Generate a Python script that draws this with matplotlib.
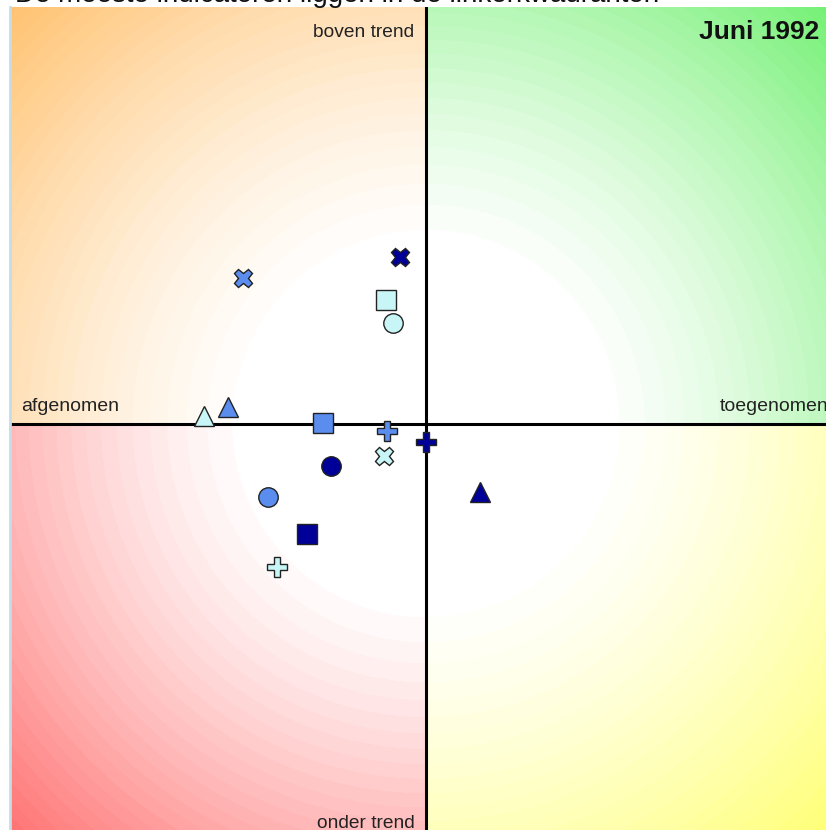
import numpy as np
import matplotlib.pyplot as plt

# indicator positions (x: afgenomen <-> toegenomen, y: onder <-> boven trend)
navy_x = [-6.3, 0.0, -28.6, -22.8, 13.0]
navy_y = [40.0, -4.3, -26.4, -10.1, -16.3]
blue_x = [-44.0, -9.4, -24.8, -38.0, -47.6]
blue_y = [35.0, -1.7, 0.2, -17.5, 4.1]
light_x = [-10.1, -35.8, -9.6, -7.9, -53.4]
light_y = [-7.7, -34.3, 29.7, 24.2, 1.9]
shapes = ['X', 'P', 's', 'o', '^']   # kruis, plus, vierkant, cirkel, driehoek

series = [
    (navy_x, navy_y, '#000099'),
    (blue_x, blue_y, '#5B8DEF'),
    (light_x, light_y, '#C8F6F6'),
]

# quadrant colours (corner tint)
c_tl = np.array([255, 194, 112]) / 255   # oranje
c_tr = np.array([112, 240, 112]) / 255   # groen
c_bl = np.array([255, 112, 112]) / 255   # rood
c_br = np.array([255, 255, 112]) / 255   # geel

W, H = 826, 830
fig = plt.figure(figsize=(W / 100, H / 100), dpi=100)
ax = fig.add_axes([10 / W, (H - 841) / H, 832 / W, 834 / H])
ax.set_xlim(-100, 100)
ax.set_ylim(-100, 100)

# radial background per kwadrant
n = 834
g = np.linspace(-100, 100, n)
X, Y = np.meshgrid(g, g[::-1])
r = np.hypot(X * 4.16, Y * 4.17)
t = np.clip((r - 175) / (589 - 175), 0, 1) ** 1.3
t = np.round(t * 28) / 28
img = np.ones((n, n, 3))
for cond, col in [((X < 0) & (Y >= 0), c_tl), ((X >= 0) & (Y >= 0), c_tr),
                  ((X < 0) & (Y < 0), c_bl), ((X >= 0) & (Y < 0), c_br)]:
    img[cond] = 1 - t[cond][:, None] * (1 - col)
ax.imshow(img, extent=[-100, 100, -100, 100], aspect='auto', zorder=0)

ax.axhline(0, color='black', lw=2.2, zorder=2)
ax.axvline(0, color='black', lw=2.2, zorder=2)

for xs, ys, col in series:
    for xv, yv, m in zip(xs, ys, shapes):
        size = {'X': 13, 'P': 15, 's': 14, 'o': 14, '^': 15}[m]
        ax.plot(xv, yv, marker=m, ms=size, mfc=col, mec='#222222', mew=1.0,
                ls='none', zorder=3)

ax.set_xticks([])
ax.set_yticks([])
for s in ['top', 'right', 'bottom']:
    ax.spines[s].set_visible(False)
ax.spines['left'].set_color('#C4DDE6')
ax.spines['left'].set_linewidth(2)

fnt = 'Liberation Sans'
ax.text(-2.8, 94.0, 'boven trend', ha='right', va='center', fontsize=13.8,
        family=fnt, color='#222222')
ax.text(-2.8, -95.7, 'onder trend', ha='right', va='center', fontsize=13.8,
        family=fnt, color='#222222')
ax.text(-97.3, 4.2, 'afgenomen', ha='left', va='center', fontsize=14,
        family=fnt, color='#222222')
ax.text(70.5, 4.2, 'toegenomen', ha='left', va='center', fontsize=14,
        family=fnt, color='#222222')
ax.text(94.5, 94.0, 'Juni 1992', ha='right', va='center', fontsize=19,
        family=fnt, weight='bold', color='#111111')

fig.text(15 / W, 1 - 2 / H, 'De meeste indicatoren liggen in de linkerkwadranten',
         ha='left', va='baseline', fontsize=20, family=fnt, color='#111111')

fig.savefig('out.png', dpi=100)
